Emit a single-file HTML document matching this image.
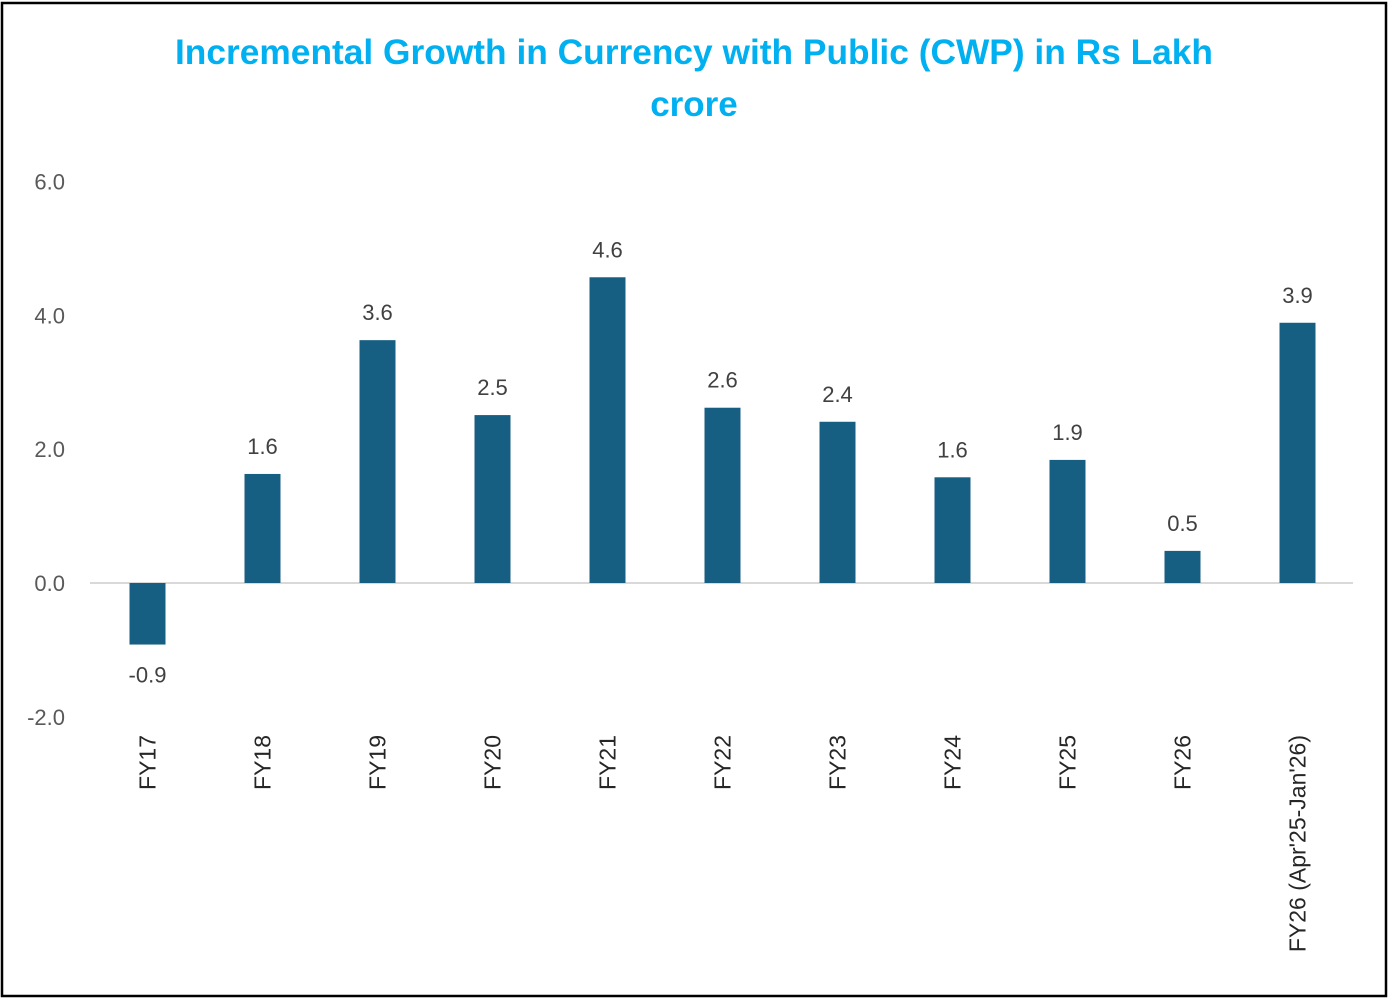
<!DOCTYPE html>
<html><head><meta charset="utf-8"><style>
html,body{margin:0;padding:0;background:#fff}
svg{display:block}
</style></head><body>
<svg id="chart" width="1389" height="1000" xmlns="http://www.w3.org/2000/svg">
<rect x="2" y="3" width="1384" height="993" fill="#fff" stroke="#000" stroke-width="2.5"/>
<text x="694" y="64" text-anchor="middle" font-family="Liberation Sans, sans-serif" font-weight="bold" font-size="35" fill="#00b0f0" textLength="1038" lengthAdjust="spacingAndGlyphs">Incremental Growth in Currency with Public (CWP) in Rs Lakh</text>
<text x="694" y="116" text-anchor="middle" font-family="Liberation Sans, sans-serif" font-weight="bold" font-size="35" fill="#00b0f0">crore</text>
<g id="axis"></g>
<g id="bars"></g>
</svg>
<script>
const categories = ["FY17","FY18","FY19","FY20","FY21","FY22","FY23","FY24","FY25","FY26","FY26 (Apr'25-Jan'26)"];
const values = [-0.92,1.63,3.63,2.51,4.57,2.62,2.41,1.58,1.84,0.48,3.89];
const valueLabels = ["-0.9","1.6","3.6","2.5","4.6","2.6","2.4","1.6","1.9","0.5","3.9"];
const yTicks = [6,4,2,0,-2];
const yTickLabels = ["6.0","4.0","2.0","0.0","-2.0"];

const NS="http://www.w3.org/2000/svg";
const plotL=90, plotR=1355, y0px=583, unit=66.9;
const y=v=>y0px-v*unit;
const band=(plotR-plotL)/categories.length;
const x=i=>plotL+band*(i+0.5);
const barW=36;
function mk(tag,attrs,parent){const e=document.createElementNS(NS,tag);for(const k in attrs)e.setAttribute(k,attrs[k]);parent.appendChild(e);return e;}
const axis=document.getElementById('axis'), bars=document.getElementById('bars');
yTicks.forEach((t,i)=>{
  const tx=mk('text',{x:65,y:y(t)+8,'text-anchor':'end','font-family':'Liberation Sans, sans-serif','font-size':22,fill:'#595959'},axis);
  tx.textContent=yTickLabels[i];
  
  
});
const zl=mk('line',{x1:plotL,x2:1353,y1:y(0),y2:y(0),stroke:'#d9d9d9','stroke-width':2},axis);


categories.forEach((c,i)=>{
  const v=values[i];
  const r=mk('rect',{x:x(i)-barW/2,y:Math.min(y(v),y(0)),width:barW,height:Math.abs(y(v)-y(0)),fill:'#175f82'},bars);
  
  
  const ly=v>=0?y(v)-20:y(v)+38;
  const l=mk('text',{x:x(i),y:ly,'text-anchor':'middle','font-family':'Liberation Sans, sans-serif','font-size':22,fill:'#404040'},bars);
  l.textContent=valueLabels[i];
  
  
  const xl=mk('text',{x:0,y:0,'text-anchor':'end','font-family':'Liberation Sans, sans-serif','font-size':23,fill:'#262626',transform:`translate(${x(i)+8},735) rotate(-90)`},axis);
  xl.textContent=c;
  
  
});
</script>
</body></html>
